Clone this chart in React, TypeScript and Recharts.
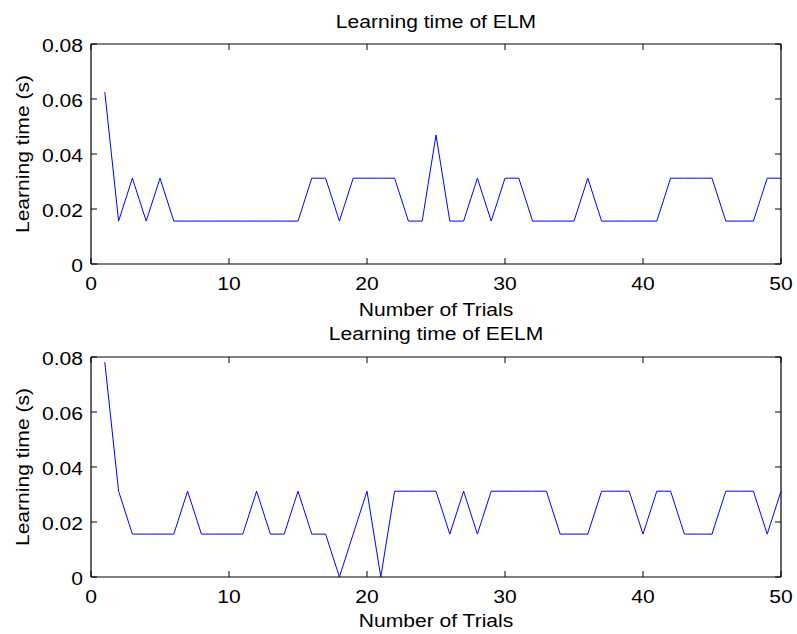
import React from 'react';
import { LineChart, Line, XAxis, YAxis, Label } from 'recharts';

const trials = [1, 2, 3, 4, 5, 6, 7, 8, 9, 10, 11, 12, 13, 14, 15, 16, 17, 18, 19, 20, 21, 22, 23, 24, 25, 26, 27, 28, 29, 30, 31, 32, 33, 34, 35, 36, 37, 38, 39, 40, 41, 42, 43, 44, 45, 46, 47, 48, 49, 50];

const elmTime = [
  0.0625, 0.0156, 0.0312, 0.0156, 0.0312, 0.0156, 0.0156, 0.0156, 0.0156, 0.0156,
  0.0156, 0.0156, 0.0156, 0.0156, 0.0156, 0.0312, 0.0312, 0.0156, 0.0312, 0.0312,
  0.0312, 0.0312, 0.0156, 0.0156, 0.0469, 0.0156, 0.0156, 0.0312, 0.0156, 0.0312,
  0.0312, 0.0156, 0.0156, 0.0156, 0.0156, 0.0312, 0.0156, 0.0156, 0.0156, 0.0156,
  0.0156, 0.0312, 0.0312, 0.0312, 0.0312, 0.0156, 0.0156, 0.0156, 0.0312, 0.0312,
];

const eelmTime = [
  0.0781, 0.0312, 0.0156, 0.0156, 0.0156, 0.0156, 0.0312, 0.0156, 0.0156, 0.0156,
  0.0156, 0.0312, 0.0156, 0.0156, 0.0312, 0.0156, 0.0156, 0, 0.0156, 0.0312,
  0, 0.0312, 0.0312, 0.0312, 0.0312, 0.0156, 0.0312, 0.0156, 0.0312, 0.0312,
  0.0312, 0.0312, 0.0312, 0.0156, 0.0156, 0.0156, 0.0312, 0.0312, 0.0312, 0.0156,
  0.0312, 0.0312, 0.0156, 0.0156, 0.0156, 0.0312, 0.0312, 0.0312, 0.0156, 0.0312,
];

const xTicks = [0, 10, 20, 30, 40, 50];
const yTicks = [0, 0.02, 0.04, 0.06, 0.08];
const xDomain = [0, 50];
const yDomain = [0, 0.08];
const titles = ['Learning time of ELM', 'Learning time of EELM'];
const xLabel = 'Number of Trials';
const yLabel = 'Learning time (s)';

const FONT = '"Liberation Sans", Arial, Helvetica, sans-serif';
const FS = 18.5;
const SX = 1.14;
const W = 797;
const PLOT_LEFT = 91;
const MARGIN_RIGHT = 15;
const PLOT_RIGHT = W - MARGIN_RIGHT - 1;
const TICK = 6;

type TxtProps = { x: number; y: number; anchor?: 'start' | 'middle' | 'end'; rotate?: boolean; children: React.ReactNode };

function Txt({ x, y, anchor = 'middle', rotate = false, children }: TxtProps) {
  const tf = rotate
    ? `translate(${x},${y}) rotate(-90) scale(${SX},1)`
    : `translate(${x},${y}) scale(${SX},1)`;
  return (
    <text transform={tf} x={0} y={0} textAnchor={anchor} fontFamily={FONT} fontSize={FS} fill="#000">
      {children}
    </text>
  );
}

type PanelProps = {
  values: number[];
  title: string;
  top: number;
  height: number;
  marginTop: number;
  xAxisHeight: number;
  tickBaseline: number;
  labelBaseline: number;
  titleOffset: number;
};

function Panel({ values, title, top, height, marginTop, xAxisHeight, tickBaseline, labelBaseline, titleOffset }: PanelProps) {
  const data = trials.map((t, i) => ({ trial: t, time: values[i] }));
  const plotTop = marginTop + 1;
  const plotBottom = height - xAxisHeight;
  const cx = (PLOT_LEFT + PLOT_RIGHT) / 2;
  const cy = (plotTop + plotBottom) / 2;

  const renderXTick = (props: any) => {
    const { x, payload } = props;
    return (
      <g>
        <line x1={x} x2={x} y1={plotBottom} y2={plotBottom - TICK} stroke="#000" strokeWidth={1} />
        <line x1={x} x2={x} y1={plotTop} y2={plotTop + TICK} stroke="#000" strokeWidth={1} />
        <Txt x={x} y={plotBottom + tickBaseline}>{String(payload.value)}</Txt>
      </g>
    );
  };

  const renderYTick = (props: any) => {
    const { y, payload } = props;
    const v = payload.value as number;
    const lbl = v === 0 ? '0' : v.toFixed(2);
    return (
      <g>
        <line x1={PLOT_LEFT} x2={PLOT_LEFT + TICK} y1={y} y2={y} stroke="#000" strokeWidth={1} />
        <line x1={PLOT_RIGHT - TICK} x2={PLOT_RIGHT} y1={y} y2={y} stroke="#000" strokeWidth={1} />
        <Txt x={PLOT_LEFT - 8} y={y + 7.5} anchor="end">{lbl}</Txt>
      </g>
    );
  };

  return (
    <div style={{ position: 'absolute', left: 0, top, width: W, height }}>
      <LineChart width={W} height={height} data={data} margin={{ top: marginTop, right: MARGIN_RIGHT, bottom: 0, left: 0 }}>
        <XAxis
          dataKey="trial"
          type="number"
          domain={xDomain}
          ticks={xTicks}
          interval={0}
          height={xAxisHeight}
          tickSize={0}
          tickMargin={0}
          tickLine={false}
          axisLine={{ stroke: '#000', strokeWidth: 1.2 }}
          tick={renderXTick}
        >
          <Label content={() => <Txt x={cx} y={plotBottom + labelBaseline}>{xLabel}</Txt>} />
        </XAxis>
        <XAxis
          xAxisId="top"
          orientation="top"
          type="number"
          domain={xDomain}
          ticks={xTicks}
          height={1}
          tick={false}
          tickLine={false}
          axisLine={{ stroke: '#000', strokeWidth: 1.2 }}
        >
          <Label content={() => <Txt x={cx} y={plotTop - titleOffset}>{title}</Txt>} />
        </XAxis>
        <YAxis
          type="number"
          domain={yDomain}
          ticks={yTicks}
          interval={0}
          width={PLOT_LEFT}
          tickSize={0}
          tickMargin={0}
          tickLine={false}
          axisLine={{ stroke: '#000', strokeWidth: 1.2 }}
          tick={renderYTick}
        >
          <Label content={() => <Txt x={28.5} y={cy} rotate>{yLabel}</Txt>} />
        </YAxis>
        <YAxis
          yAxisId="right"
          orientation="right"
          type="number"
          domain={yDomain}
          ticks={yTicks}
          width={1}
          tick={false}
          tickLine={false}
          axisLine={{ stroke: '#000', strokeWidth: 1.2 }}
        />
        <Line
          type="linear"
          dataKey="time"
          stroke="#0000ff"
          strokeWidth={1}
          dot={false}
          activeDot={false}
          isAnimationActive={false}
        />
      </LineChart>
    </div>
  );
}

export default function App() {
  return (
    <div style={{ position: 'absolute', left: 0, top: 0, width: W, height: 634, background: '#fff' }}>
      <Panel values={elmTime} title={titles[0]} top={0} height={325} marginTop={43} xAxisHeight={61}
        tickBaseline={25.5} labelBaseline={52} titleOffset={16} />
      <Panel values={eelmTime} title={titles[1]} top={316} height={318} marginTop={40} xAxisHeight={57}
        tickBaseline={26} labelBaseline={50} titleOffset={17} />
    </div>
  );
}
